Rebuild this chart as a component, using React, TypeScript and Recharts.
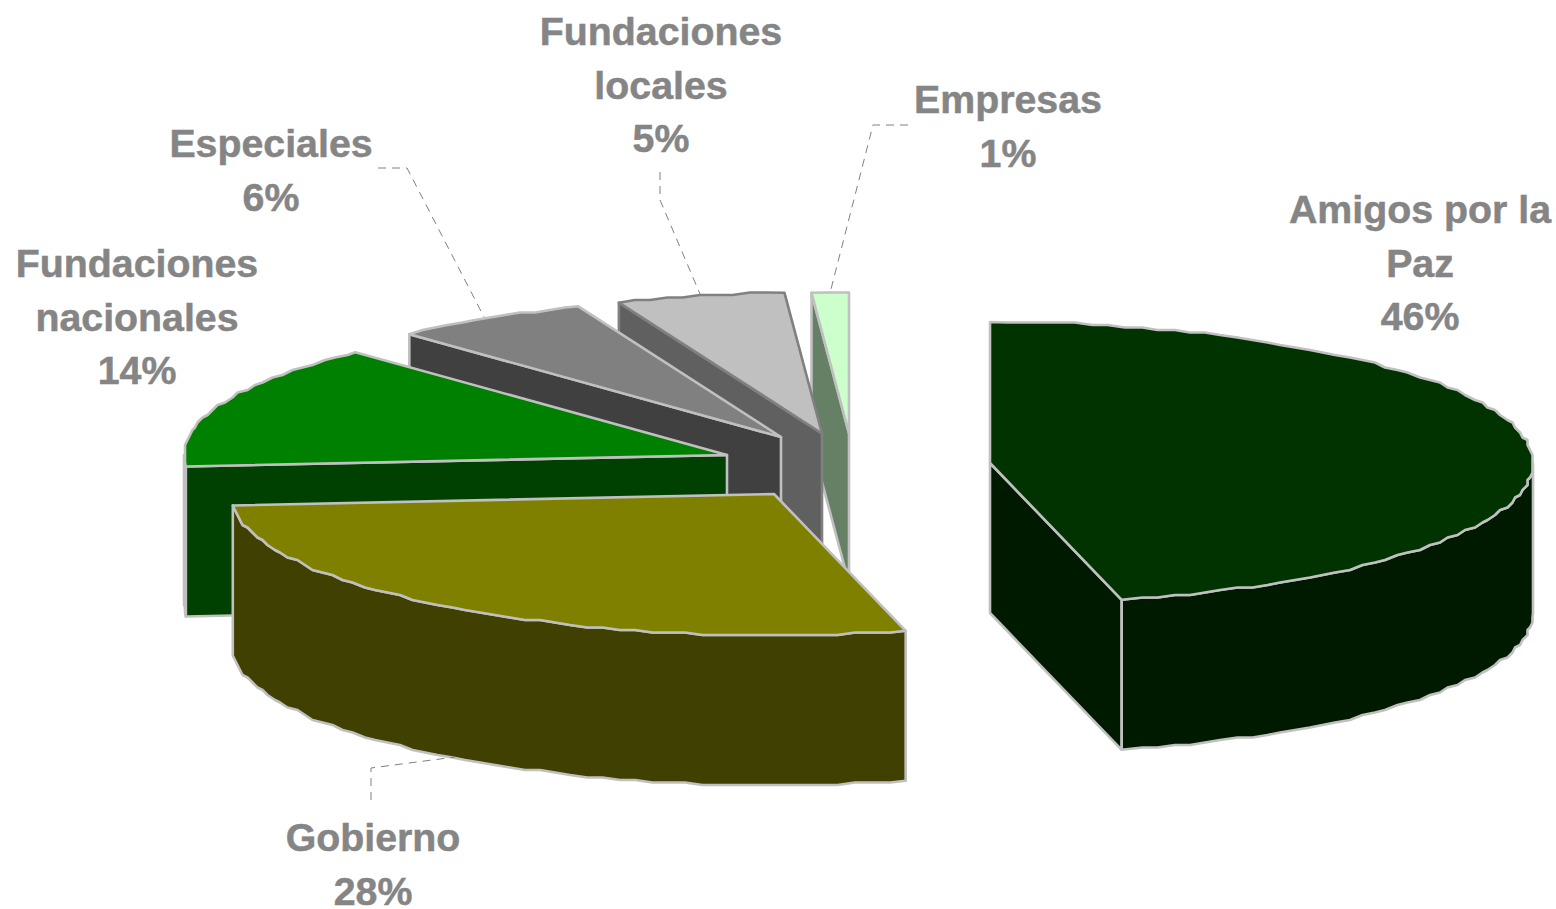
import React from "react";
import { PieChart, Pie, Cell } from "recharts";

// Data is drawn back-to-front: the pie goes counter-clockwise from 12 o'clock.
const categories = ["Empresas", "Fundaciones locales", "Especiales", "Fundaciones nacionales", "Gobierno", "Amigos por la Paz"];
const values = [1.1, 5, 5.9, 14.3, 27.6, 46.1];
const labelLines = [["Empresas"], ["Fundaciones", "locales"], ["Especiales"], ["Fundaciones", "nacionales"], ["Gobierno"], ["Amigos por la", "Paz"]];
const topColors = ["#CCFFCC", "#C0C0C0", "#808080", "#008000", "#808000", "#003300"];
const sideColors = ["#668066", "#606060", "#404040", "#004000", "#404000", "#001A00"];
const strokeColors = ["#C0C0C0", "#808080", "#C0C0C0", "#C0C0C0", "#C0C0C0", "#C0C0C0"];

const tableData = categories.map((name, i) => ({ name, value: values[i] }));

// Chart-level layout
const PIE_CX = 849;
const PIE_CY = 433.5;
const RADIUS = 543;
const SQUASH = 141 / 543;
const DEPTH = 150;
const GRID = 2.5;
const STEP = 1.8;
const explode: Record<string, [number, number]> = {
  "Empresas": [0, 0],
  "Fundaciones locales": [-27, 0],
  "Especiales": [-68, 3.5],
  "Fundaciones nacionales": [-122, 21.5],
  "Gobierno": [-75, 60.5],
  "Amigos por la Paz": [141, 29.5],
};
const labelLayout: Record<string, { x: number; y: number; leader?: [number, number][] }> = {
  "Empresas": { x: 1008, y: 113, leader: [[908, 125], [873, 125], [830, 293]] },
  "Fundaciones locales": { x: 661, y: 45, leader: [[660, 172], [660, 200], [700, 294]] },
  "Especiales": { x: 271, y: 157, leader: [[378, 168], [407, 168], [484, 317]] },
  "Fundaciones nacionales": { x: 137, y: 277 },
  "Gobierno": { x: 373, y: 851, leader: [[371, 800], [371, 768], [455, 757]] },
  "Amigos por la Paz": { x: 1420, y: 223 },
};

const rad = (d: number) => (d * Math.PI) / 180;
const snap = (v: number) => Math.round(v / GRID) * GRID;
const pathOf = (pts: number[][]) => "M" + pts.map((p) => `${p[0].toFixed(1)},${p[1].toFixed(1)}`).join("L") + "Z";

function Slice3D(props: any) {
  const { cx, cy, outerRadius, startAngle, endAngle, fill, index, name } = props;
  const key = name ?? props.payload?.name;
  const i = typeof index === "number" ? index : categories.indexOf(key);
  const [dx, dy] = explode[categories[i]];
  const ox = cx + dx;
  const oy = cy + dy;
  const t1 = 90 - endAngle + 360;
  const t2 = 90 - startAngle + 360;
  const pt = (t: number, exact = false) => {
    const x = ox + outerRadius * Math.sin(rad(t));
    const y = oy - outerRadius * SQUASH * Math.cos(rad(t));
    return exact ? [x, y] : [snap(x), snap(y)];
  };
  const arc = (a: number, b: number) => {
    const pts: number[][] = [pt(a, true)];
    for (let t = a + STEP; t < b - STEP / 2; t += STEP) pts.push(pt(t));
    pts.push(pt(b, true));
    return pts;
  };
  const down = (pts: number[][]) => pts.map((p) => [p[0], p[1] + DEPTH]);
  const common = { stroke: strokeColors[i], strokeWidth: 2.6, strokeLinejoin: "round" as const };
  const side = sideColors[i];
  const center = [ox, oy];
  const walls: React.ReactNode[] = [];
  if (Math.sin(rad(t1)) < -1e-6) {
    const p = pt(t1, true);
    walls.push(<path key="w1" d={pathOf([center, p, [p[0], p[1] + DEPTH], [ox, oy + DEPTH]])} fill={side} {...common} />);
  }
  if (Math.sin(rad(t2)) > 1e-6) {
    const p = pt(t2, true);
    walls.push(<path key="w2" d={pathOf([center, p, [p[0], p[1] + DEPTH], [ox, oy + DEPTH]])} fill={side} {...common} />);
  }
  const ra = Math.max(t1, 90);
  const rb = Math.min(t2, 270);
  if (rb > ra) {
    const top = arc(ra, rb);
    walls.push(<path key="rim" d={pathOf([...top, ...down(top).reverse()])} fill={side} {...common} />);
  }
  return (
    <g>
      {walls}
      <path d={pathOf([center, ...arc(t1, t2)])} fill={fill} {...common} />
    </g>
  );
}

function SliceLabel(props: any) {
  const { index, percent } = props;
  const name = categories[index];
  const lay = labelLayout[name];
  const lines = [...labelLines[index], `${Math.round(percent * 100)}%`];
  return (
    <g>
      {lay.leader && (
        <polyline
          points={lay.leader.map((p) => p.join(",")).join(" ")}
          fill="none"
          stroke="#808080"
          strokeWidth={1}
          strokeDasharray="8 6"
        />
      )}
      {lines.map((line, k) => (
        <text
          key={k}
          x={lay.x}
          y={lay.y + k * 53.7}
          textAnchor="middle"
          fontFamily="'Liberation Sans', Arial, sans-serif"
          fontWeight={700}
          fontSize={39.3}
          fill="#858585"
          stroke="#858585"
          strokeWidth={0.5}
        >
          {line}
        </text>
      ))}
    </g>
  );
}

export default function App() {
  return (
    <div style={{ position: "absolute", left: 0, top: 0, width: 1556, height: 909, overflow: "hidden", background: "#fff" }}>
      <PieChart width={1556} height={909} margin={{ top: 0, right: 0, bottom: 0, left: 0 }}>
        <Pie
          data={tableData}
          dataKey="value"
          nameKey="name"
          cx={PIE_CX}
          cy={PIE_CY}
          innerRadius={0}
          outerRadius={RADIUS}
          startAngle={90}
          endAngle={450}
          stroke="none"
          shape={Slice3D}
          label={SliceLabel}
          labelLine={false}
          isAnimationActive={false}
        >
          {tableData.map((d, i) => (
            <Cell key={d.name} fill={topColors[i]} />
          ))}
        </Pie>
      </PieChart>
    </div>
  );
}
